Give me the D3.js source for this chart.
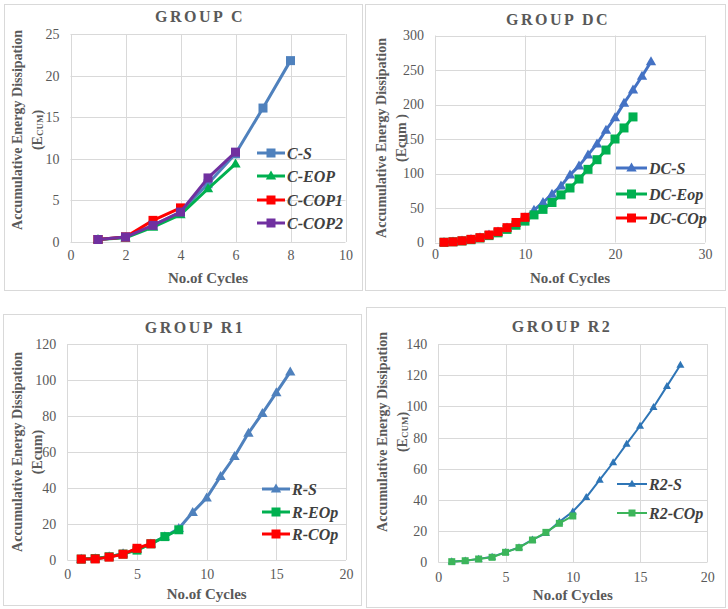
<!DOCTYPE html>
<html>
<head>
<meta charset="utf-8">
<script src="https://cdn.jsdelivr.net/npm/d3@7"></script>
<style>
  body { margin: 0; background: #fff; }
  svg { display: block; }
</style>
</head>
<body>
<svg id="chart" width="728" height="609"></svg>
<script>
// ---- data ----
// GROUP C (cycles 1..n)
const cS    = [0.3, 0.6, 2.0, 3.6, 7.0, 10.6, 16.1, 21.8];
const cEOP  = [0.3, 0.5, 1.8, 3.3, 6.4, 9.4];
const cCOP1 = [0.3, 0.6, 2.6, 4.1];
const cCOP2 = [0.3, 0.6, 2.0, 3.6, 7.7, 10.8];
// GROUP DC
const dcS   = [0.3, 1, 2.4, 4.4, 7, 11, 15.5, 21, 28, 36, 47, 58, 70, 82, 98, 111, 127, 143, 163, 181, 202, 221, 241, 262];
const dcEop = [0.3, 1, 2.2, 4, 6.5, 10, 14, 19, 25, 31, 40, 48, 58, 69, 79, 92, 106, 120, 134, 150, 166, 182];
const dcCOp = [0.3, 1, 2.5, 4.6, 7, 10.9, 15.7, 21.5, 29, 36.5];
// GROUP R1
const rS    = [0.5, 0.8, 1.8, 3.5, 6, 9, 13, 17.5, 26.5, 34.5, 46.5, 57.5, 70.5, 81.5, 93, 104.5];
const rEOp  = [0.5, 0.8, 1.8, 3.3, 5.5, 9, 13, 16.8];
const rCOp  = [0.5, 0.6, 1.6, 3.2, 6.5, 9];
// GROUP R2
const r2S   = [0.5, 1, 2.2, 3.5, 6.5, 9.5, 14.5, 18.6, 26, 32.5, 41.7, 52.8, 64, 75.9, 87.4, 99.4, 113, 126.5];
const r2COp = [0.4, 1, 2.1, 3.2, 6.4, 9.4, 14.3, 19.2, 25, 29.7];

const xTicksC  = [0, 2, 4, 6, 8, 10],   yTicksC  = [0, 5, 10, 15, 20, 25];
const xTicksDC = [0, 10, 20, 30],        yTicksDC = [0, 50, 100, 150, 200, 250, 300];
const xTicksR1 = [0, 5, 10, 15, 20],     yTicksR1 = [0, 20, 40, 60, 80, 100, 120];
const xTicksR2 = [0, 5, 10, 15, 20],     yTicksR2 = [0, 20, 40, 60, 80, 100, 120, 140];

const blue = "#4f81bd", green = "#00b050", red = "#ff0000", purple = "#7030a0";
const FONT = '"Times New Roman", "Liberation Serif", Tinos, "DejaVu Serif", serif';

const toPts = arr => arr.map((v, i) => ({ x: i + 1, y: v }));

const panels = [
  {
    title: "GROUP C", box: [4, 4, 358, 286], plot: [70.5, 345.5, 242, 34],
    xTicks: xTicksC, yTicks: yTicksC, ySub: true, yLabel2: "(E", titleX: 200, titleY: 16,
    yTitleX: 17, yTitleY: 130, xLabY: 259, xTitleY: 278, lw: 3, ms: 9,
    legend: { x: 257, len: 28, rows: [153, 176, 200, 223] },
    series: [
      { name: "C-S", data: cS, color: blue, marker: "square" },
      { name: "C-EOP", data: cEOP, color: green, marker: "triangle" },
      { name: "C-COP1", data: cCOP1, color: red, marker: "square" },
      { name: "C-COP2", data: cCOP2, color: purple, marker: "square" }
    ]
  },
  {
    title: "GROUP DC", box: [365, 4, 360, 286], plot: [435, 705, 242.5, 35.5],
    xTicks: xTicksDC, yTicks: yTicksDC, ySub: false, yLabel2: "(Ecum )", titleX: 558, titleY: 19,
    yTitleX: 381, yTitleY: 138, xLabY: 258, xTitleY: 278, lw: 3, ms: 9,
    legend: { x: 616, len: 31, rows: [168, 194, 218] },
    series: [
      { name: "DC-S", data: dcS, color: "#4472c4", marker: "triangle" },
      { name: "DC-Eop", data: dcEop, color: green, marker: "square" },
      { name: "DC-COp", data: dcCOp, color: red, marker: "square" }
    ]
  },
  {
    title: "GROUP R1", box: [3, 314, 358, 291], plot: [67.3, 346, 560, 344],
    xTicks: xTicksR1, yTicks: yTicksR1, ySub: false, yLabel2: "(Ecum)", titleX: 195, titleY: 327,
    yTitleX: 17, yTitleY: 452, xLabY: 578, xTitleY: 594, lw: 3, ms: 9,
    legend: { x: 262, len: 28, rows: [489, 512, 534] },
    series: [
      { name: "R-S", data: rS, color: blue, marker: "triangle" },
      { name: "R-EOp", data: rEOp, color: green, marker: "square" },
      { name: "R-COp", data: rCOp, color: red, marker: "square" }
    ]
  },
  {
    title: "GROUP R2", box: [366, 307, 359, 300], plot: [438.3, 707.3, 562.3, 344],
    xTicks: xTicksR2, yTicks: yTicksR2, ySub: true, yLabel2: "(E", titleX: 562, titleY: 326,
    yTitleX: 382, yTitleY: 432, xLabY: 581, xTitleY: 595, lw: 2, ms: 7,
    legend: { x: 617, len: 30, rows: [484, 513] },
    series: [
      { name: "R2-S", data: r2S, color: "#2e75b6", marker: "triangle" },
      { name: "R2-COp", data: r2COp, color: "#3cb55a", marker: "square" }
    ]
  }
];

const svg = d3.select("#chart");
const grey = "#595959";

function drawMarker(g, type, cx, cy, size, color) {
  if (type === "square") {
    g.append("rect")
      .attr("x", cx - size / 2).attr("y", cy - size / 2)
      .attr("width", size).attr("height", size)
      .attr("fill", color);
  } else {
    const s = size * 1.15;
    const h = s * 0.87;
    g.append("path")
      .attr("d", `M${cx},${cy - h * 0.6}L${cx + s / 2},${cy + h * 0.4}L${cx - s / 2},${cy + h * 0.4}Z`)
      .attr("fill", color);
  }
}

panels.forEach(p => {
  const g = svg.append("g").attr("font-family", FONT);
  const [bx, by, bw, bh] = p.box;
  g.append("rect")
    .attr("x", bx + 0.5).attr("y", by + 0.5)
    .attr("width", bw).attr("height", bh)
    .attr("fill", "#fff").attr("stroke", "#d9d9d9");

  const xd = [p.xTicks[0], p.xTicks[p.xTicks.length - 1]];
  const yd = [p.yTicks[0], p.yTicks[p.yTicks.length - 1]];
  const x = d3.scaleLinear().domain(xd).range([p.plot[0], p.plot[1]]);
  const y = d3.scaleLinear().domain(yd).range([p.plot[2], p.plot[3]]);

  // gridlines
  g.selectAll(".hg").data(p.yTicks).join("line")
    .attr("x1", x(xd[0])).attr("x2", x(xd[1]))
    .attr("y1", d => Math.round(y(d)) + 0.5).attr("y2", d => Math.round(y(d)) + 0.5)
    .attr("stroke", "#d9d9d9");
  g.selectAll(".vg").data(p.xTicks).join("line")
    .attr("y1", y(yd[0])).attr("y2", y(yd[1]))
    .attr("x1", d => Math.round(x(d)) + 0.5).attr("x2", d => Math.round(x(d)) + 0.5)
    .attr("stroke", "#d9d9d9");

  // axes (labels only)
  const ya = g.append("g")
    .attr("transform", `translate(${p.plot[0] - 3},0)`)
    .call(d3.axisLeft(y).tickValues(p.yTicks).tickSize(0).tickPadding(8));
  const xa = g.append("g")
    .attr("transform", `translate(0,${p.xLabY - 9})`)
    .call(d3.axisBottom(x).tickValues(p.xTicks).tickSize(0).tickPadding(0));
  [ya, xa].forEach(a => {
    a.attr("font-family", FONT).attr("font-size", 14);
    a.select(".domain").remove();
    a.selectAll("text").attr("fill", grey);
  });

  // series
  const line = d3.line().x(d => x(d.x)).y(d => y(d.y));
  p.series.forEach(s => {
    const pts = toPts(s.data);
    g.append("path").datum(pts)
      .attr("d", line).attr("fill", "none")
      .attr("stroke", s.color).attr("stroke-width", p.lw)
      .attr("stroke-linejoin", "round");
    pts.forEach(d => drawMarker(g, s.marker, x(d.x), y(d.y), p.ms, s.color));
  });

  // legend
  p.series.forEach((s, i) => {
    const ly = p.legend.rows[i];
    g.append("line")
      .attr("x1", p.legend.x).attr("x2", p.legend.x + p.legend.len)
      .attr("y1", ly).attr("y2", ly)
      .attr("stroke", s.color).attr("stroke-width", p.lw);
    drawMarker(g, s.marker, p.legend.x + p.legend.len / 2, ly, p.ms, s.color);
    g.append("text")
      .attr("x", p.legend.x + p.legend.len + 2).attr("y", ly)
      .attr("dominant-baseline", "central")
      .attr("fill", "#404040")
      .attr("font-size", 16).attr("font-weight", "bold").attr("font-style", "italic")
      .text(s.name);
  });

  // title
  g.append("text")
    .attr("x", p.titleX).attr("y", p.titleY)
    .attr("text-anchor", "middle").attr("dominant-baseline", "central")
    .attr("fill", grey)
    .attr("font-size", 16).attr("font-weight", "bold").attr("letter-spacing", "2.5px")
    .text(p.title);

  // x axis title
  g.append("text")
    .attr("x", (p.plot[0] + p.plot[1]) / 2).attr("y", p.xTitleY)
    .attr("text-anchor", "middle").attr("dominant-baseline", "central")
    .attr("fill", grey)
    .attr("font-size", 15).attr("font-weight", "bold")
    .text("No.of Cycles");

  // y axis title (two lines)
  const yt = g.append("g")
    .attr("transform", `translate(${p.yTitleX},${p.yTitleY}) rotate(-90)`);
  yt.append("text")
    .attr("text-anchor", "middle").attr("dominant-baseline", "central")
    .attr("fill", grey)
    .attr("font-size", 14).attr("font-weight", "bold")
    .text("Accumulative Energy Dissipation");
  const t2 = yt.append("text")
    .attr("y", 20)
    .attr("text-anchor", "middle").attr("dominant-baseline", "central")
    .attr("fill", grey)
    .attr("font-size", 14).attr("font-weight", "bold");
  if (p.ySub) {
    t2.append("tspan").text("(E");
    t2.append("tspan").attr("dy", 3).attr("font-size", 9).text("CUM");
    t2.append("tspan").attr("dy", -3).text(")");
  } else {
    t2.text(p.yLabel2);
  }
});
</script>
</body>
</html>
